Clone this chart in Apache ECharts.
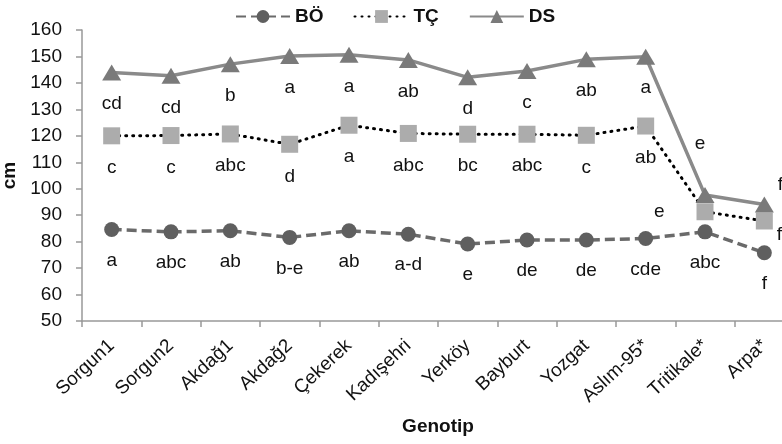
<!DOCTYPE html>
<html>
<head>
<meta charset="utf-8">
<script src="https://cdn.jsdelivr.net/npm/echarts@6/dist/echarts.min.js"></script>
<style>
  html, body { margin: 0; padding: 0; background: #fff; }
  #chart { width: 782px; height: 444px; }
</style>
</head>
<body>
<div id="chart"></div>
<script>
// genotypes
var categories = ['Sorgun1', 'Sorgun2', 'Akdağ1', 'Akdağ2', 'Çekerek', 'Kadışehri', 'Yerköy', 'Bayburt', 'Yozgat', 'Aslım-95*', 'Tritikale*', 'Arpa*']

// values (cm)
var boValues = [84.6, 83.7, 84.1, 81.6, 84.1, 82.8, 79.1, 80.6, 80.6, 81.2, 83.7, 75.8]
var tcValues = [120, 120.1, 120.7, 116.8, 124, 120.9, 120.6, 120.6, 120.2, 123.7, 91.3, 87.8]
var dsValues = [143.9, 142.7, 147.1, 150.2, 150.6, 148.7, 142.1, 144.5, 148.9, 149.9, 97.6, 94]

// significance letters
var boLetters = ['a', 'abc', 'ab', 'b-e', 'ab', 'a-d', 'e', 'de', 'de', 'cde', 'abc', 'f']
var tcLetters = ['c', 'c', 'abc', 'd', 'a', 'abc', 'bc', 'abc', 'c', 'ab', 'e', 'f']
var dsLetters = ['cd', 'cd', 'b', 'a', 'a', 'ab', 'd', 'c', 'ab', 'a', 'e', 'f']

var chart = echarts.init(document.getElementById('chart'))

var fontFamily = '"Liberation Sans", Arial, sans-serif'

function buildData(values, letters, overrides) {
  return values.map(function(v, i) {
    var item = { value: v, label: { formatter: letters[i] } }
    if (overrides && overrides[i]) {
      Object.assign(item.label, overrides[i])
    }
    return item
  })
}

var labelBase = {
  show: true,
  position: 'bottom',
  distance: 14,
  color: '#111',
  fontSize: 19,
  fontFamily: fontFamily
}

chart.setOption({
  animation: false,
  grid: {
    left: 82,
    width: 712,
    top: 30,
    bottom: 123,
    containLabel: false,
    outerBoundsMode: 'none'
  },
  legend: {
    top: 2,
    left: 230,
    itemGap: 30,
    itemWidth: 54,
    itemHeight: 16,
    textStyle: {
      fontSize: 19,
      fontWeight: 'bold',
      color: '#111',
      fontFamily: fontFamily
    },
    data: ['BÖ', 'TÇ', 'DS']
  },
  xAxis: {
    type: 'category',
    data: categories,
    boundaryGap: true,
    name: 'Genotip',
    nameLocation: 'middle',
    nameGap: 96,
    nameTextStyle: {
      fontSize: 19,
      fontWeight: 'bold',
      color: '#111',
      fontFamily: fontFamily
    },
    axisLine: { lineStyle: { color: '#999', width: 1.5 } },
    axisTick: { show: true, length: 6, lineStyle: { color: '#999', width: 1.5 } },
    axisLabel: {
      rotate: 43,
      margin: 22,
      fontSize: 19,
      color: '#111',
      fontFamily: fontFamily,
      interval: 0
    }
  },
  yAxis: {
    type: 'value',
    min: 50,
    max: 160,
    interval: 10,
    name: 'cm',
    nameLocation: 'middle',
    nameGap: 58,
    nameRotate: 90,
    nameTextStyle: {
      fontSize: 19,
      fontWeight: 'bold',
      color: '#111',
      fontFamily: fontFamily
    },
    axisLine: { show: true, lineStyle: { color: '#999', width: 1.5 } },
    axisTick: { show: true, length: 6, lineStyle: { color: '#999', width: 1.5 } },
    splitLine: { show: false },
    axisLabel: {
      fontSize: 19,
      color: '#111',
      margin: 20,
      fontFamily: fontFamily
    }
  },
  series: [
    {
      name: 'BÖ',
      type: 'line',
      data: buildData(boValues, boLetters),
      symbol: 'circle',
      symbolSize: 15,
      itemStyle: { color: '#5f5f5f' },
      lineStyle: { color: '#6a6a6a', width: 3.5, type: [10, 5] },
      label: labelBase
    },
    {
      name: 'TÇ',
      type: 'line',
      data: buildData(tcValues, tcLetters, {
        10: { position: 'left', distance: 32 },
        11: { position: 'right', distance: 4, offset: [0, 14] }
      }),
      symbol: 'rect',
      symbolSize: 17,
      itemStyle: { color: '#acacac' },
      lineStyle: { color: '#000', width: 3, type: [1, 6], cap: 'round' },
      label: labelBase
    },
    {
      name: 'DS',
      type: 'line',
      data: buildData(dsValues, dsLetters, {
        10: { position: 'top', distance: 34, offset: [-5, 0] },
        11: { position: 'right', distance: 4, offset: [0, -20] }
      }),
      symbol: 'triangle',
      symbolSize: [19, 16],
      itemStyle: { color: '#7a7a7a' },
      lineStyle: { color: '#8a8a8a', width: 3.5 },
      label: labelBase
    }
  ]
})
</script>
</body>
</html>
